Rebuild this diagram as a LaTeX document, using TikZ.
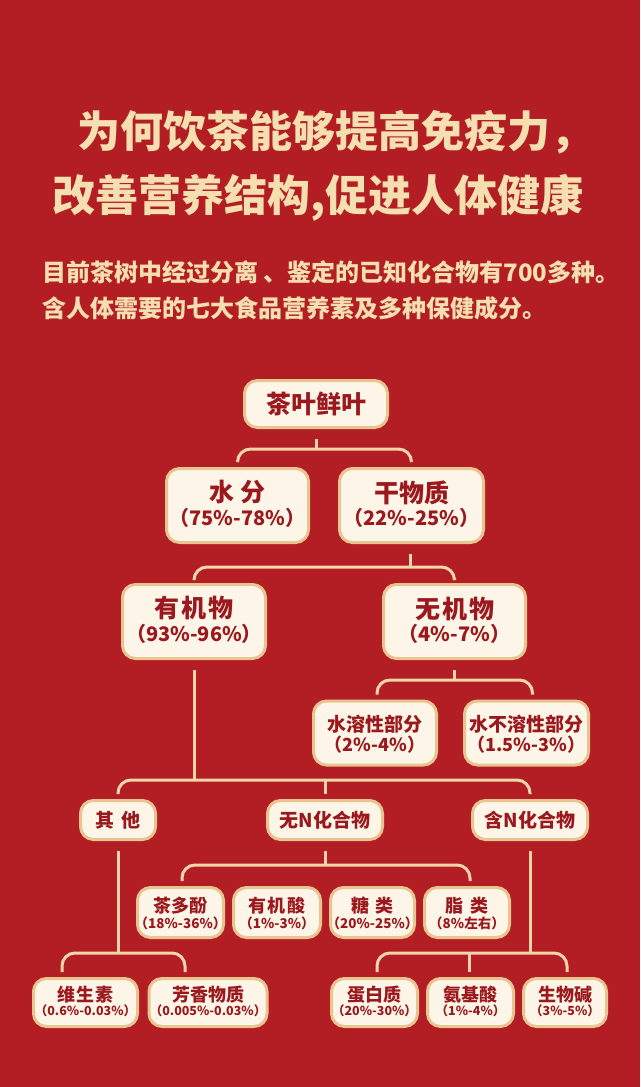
\documentclass[tikz,border=0pt]{standalone}
\usepackage{fontspec}
\newfontfamily\cjk{Noto Sans CJK SC}
\definecolor{bgred}{RGB}{178,30,36}
\definecolor{gold}{RGB}{245,222,175}
\definecolor{cardfill}{RGB}{253,246,232}
\definecolor{cardedge}{RGB}{232,196,145}
\definecolor{inkred}{RGB}{155,25,30}
\definecolor{linec}{RGB}{242,214,170}
\newcommand\fs[1]{\fontsize{#1}{#1}\selectfont}
\begin{document}
\begin{tikzpicture}[x=1pt,y=-1pt,
  card/.style={draw=cardedge, line width=3pt, fill=cardfill, rounded corners=13pt, inner sep=0pt},
  ttl/.style={text=gold, inner sep=0pt, font=\cjk\bfseries\fs{43}},
  sub/.style={text=gold, inner sep=0pt, font=\cjk\bfseries\fs{24}},
  la/.style={text=inkred, inner sep=0pt, font=\cjk\bfseries\fs{25}},
  lb/.style={text=inkred, inner sep=0pt, font=\cjk\bfseries\fs{20}},
  ma/.style={text=inkred, inner sep=0pt, font=\cjk\bfseries\fs{19}},
  mb/.style={text=inkred, inner sep=0pt, font=\cjk\bfseries\fs{18}},
  sa/.style={text=inkred, inner sep=0pt, font=\cjk\bfseries\fs{18}},
  sb/.style={text=inkred, inner sep=0pt, font=\cjk\bfseries\fs{13.5}},
  sc/.style={text=inkred, inner sep=0pt, font=\cjk\bfseries\fs{12.5}},
  conn/.style={draw=linec, line width=3pt, rounded corners=13pt}
]
\fill[bgred] (0,0) rectangle (640,1087);
\useasboundingbox (0,0) rectangle (640,1087);

% titles
\node[ttl, anchor=west] (t1) at (77,132) {为何饮茶能够提高免疫力，};
\node[ttl, anchor=west] (t2) at (52,197.5) {改善营养结构,促进人体健康};
\node[sub, anchor=west] (s1) at (42,272) {目前茶树中经过分离 、鉴定的已知化合物有700多种。};
\node[sub, anchor=west] (s2) at (42,308) {含人体需要的七大食品营养素及多种保健成分。};

% level 1
\node[card, minimum width=143, minimum height=47] (tea) at (316,404) {};
\node[la] (teaA) at (tea.center) {茶叶鲜叶};

% level 2
\node[card, minimum width=142, minimum height=74] (water) at (237.5,505.5) {};
\node[la] (waterA) at ([yshift=13pt]water.center) {水\hspace{6pt}分};
\node[lb] (waterB) at ([yshift=-12.5pt]water.center) {（75\%-78\%）};
\node[card, minimum width=144, minimum height=74] (dry) at (411.5,505.5) {};
\node[la] (dryA) at ([yshift=13pt]dry.center) {干物质};
\node[lb] (dryB) at ([yshift=-12.5pt]dry.center) {（22\%-25\%）};

% level 3
\node[card, minimum width=143, minimum height=74] (org) at (194,621.5) {};
\node[la] (orgA) at ([yshift=13pt]org.center) {有\hspace{2pt}机\hspace{2pt}物};
\node[lb] (orgB) at ([yshift=-12.5pt]org.center) {（93\%-96\%）};
\node[card, minimum width=142, minimum height=74] (inorg) at (454.5,621.5) {};
\node[la] (inorgA) at ([yshift=13pt]inorg.center) {无\hspace{2pt}机\hspace{2pt}物};
\node[lb] (inorgB) at ([yshift=-12.5pt]inorg.center) {（4\%-7\%）};

% level 4 (inorganic)
\node[card, minimum width=123, minimum height=64] (sol) at (375,733) {};
\node[ma] (solA) at ([yshift=8.5pt]sol.center) {水溶性部分};
\node[mb] (solB) at ([yshift=-12pt]sol.center) {（2\%-4\%）};
\node[card, minimum width=124, minimum height=64] (insol) at (526.5,733) {};
\node[ma] (insolA) at ([yshift=8.5pt]insol.center) {水不溶性部分};
\node[mb] (insolB) at ([yshift=-12pt]insol.center) {（1.5\%-3\%）};

% level 4 (organic)
\node[card, minimum width=75, minimum height=39] (other) at (118,820) {};
\node[ma] (otherA) at (other.center) {其\hspace{7pt}他};
\node[card, minimum width=115, minimum height=39] (nonN) at (325,820) {};
\node[ma] (nonNA) at (nonN.center) {无N化合物};
\node[card, minimum width=115, minimum height=39] (withN) at (530,820) {};
\node[ma] (withNA) at (withN.center) {含N化合物};

% level 5 (non-N)
\node[card, minimum width=86, minimum height=50] (tp) at (180.5,912.5) {};
\node[sa] (tpA) at ([yshift=6.5pt]tp.center) {茶多酚};
\node[sb] (tpB) at ([yshift=-10.5pt]tp.center) {（18\%-36\%）};
\node[card, minimum width=87, minimum height=50] (oa) at (277,912.5) {};
\node[sa] (oaA) at ([yshift=6.5pt]oa.center) {有\hspace{1.5pt}机\hspace{1.5pt}酸};
\node[sb] (oaB) at ([yshift=-10.5pt]oa.center) {（1\%-3\%）};
\node[card, minimum width=84, minimum height=50] (sugar) at (372.5,912.5) {};
\node[sa] (sugarA) at ([yshift=6.5pt]sugar.center) {糖\hspace{7pt}类};
\node[sb] (sugarB) at ([yshift=-10.5pt]sugar.center) {（20\%-25\%）};
\node[card, minimum width=85, minimum height=50] (lipid) at (467,912.5) {};
\node[sa] (lipidA) at ([yshift=6.5pt]lipid.center) {脂\hspace{7pt}类};
\node[sb] (lipidB) at ([yshift=-10.5pt]lipid.center) {（8\%左右）};

% level 6
\node[card, minimum width=104, minimum height=48] (vit) at (85.5,1002.5) {};
\node[sa] (vitA) at ([yshift=7.5pt]vit.center) {维\hspace{1.5pt}生\hspace{1.5pt}素};
\node[sc] (vitB) at ([yshift=-8.5pt]vit.center) {（0.6\%-0.03\%）};
\node[card, minimum width=118, minimum height=48] (arom) at (208,1002.5) {};
\node[sa] (aromA) at ([yshift=7.5pt]arom.center) {芳香物质};
\node[sc] (aromB) at ([yshift=-8.5pt]arom.center) {（0.005\%-0.03\%）};
\node[card, minimum width=86, minimum height=48] (prot) at (374.5,1002.5) {};
\node[sa] (protA) at ([yshift=7.5pt]prot.center) {蛋白质};
\node[sc] (protB) at ([yshift=-8.5pt]prot.center) {（20\%-30\%）};
\node[card, minimum width=86, minimum height=48] (amino) at (470.5,1002.5) {};
\node[sa] (aminoA) at ([yshift=7.5pt]amino.center) {氨基酸};
\node[sc] (aminoB) at ([yshift=-8.5pt]amino.center) {（1\%-4\%）};
\node[card, minimum width=83, minimum height=48] (alk) at (565,1002.5) {};
\node[sa] (alkA) at ([yshift=7.5pt]alk.center) {生物碱};
\node[sc] (alkB) at ([yshift=-8.5pt]alk.center) {（3\%-5\%）};

% connector bars
\coordinate (b1) at (0,449);
\coordinate (b2) at (0,567);
\coordinate (b3) at (0,680);
\coordinate (b4) at (0,780);
\coordinate (b5) at (0,865);
\coordinate (b6) at (0,953);

\draw[conn] ([yshift=-10pt]tea.south) -- (tea.south |- b1);
\draw[conn] ([yshift=5pt]water.north) -- (water.north |- b1) -- (dry.north |- b1) -- ([yshift=5pt]dry.north);

\draw[conn] ([xshift=-1.5pt,yshift=-10pt]dry.south) -- ([xshift=-1.5pt]dry.south |- b2);
\draw[conn] ([yshift=5pt]org.north) -- (org.north |- b2) -- (inorg.north |- b2) -- ([yshift=5pt]inorg.north);

\draw[conn] ([yshift=-10pt]inorg.south) -- (inorg.south |- b3);
\draw[conn] ([xshift=2pt,yshift=5pt]sol.north) -- ([xshift=2pt]sol.north |- b3) -- ([xshift=6pt]insol.north |- b3) -- ([xshift=6pt,yshift=5pt]insol.north);

\draw[conn] ([yshift=-10pt]org.south) -- (org.south |- b4);
\draw[conn] ([yshift=5pt]other.north) -- (other.north |- b4) -- (withN.north |- b4) -- ([yshift=5pt]withN.north);
\draw[conn] (nonN.north |- b4) -- ([yshift=5pt]nonN.north);

\draw[conn] ([yshift=-10pt]nonN.south) -- (nonN.south |- b5);
\draw[conn] ([xshift=1.5pt,yshift=5pt]tp.north) -- ([xshift=1.5pt]tp.north |- b5) -- ([xshift=3pt]lipid.north |- b5) -- ([xshift=3pt,yshift=5pt]lipid.north);

\draw[conn] ([yshift=-10pt]other.south) -- (other.south |- b6);
\draw[conn] ([xshift=-23.5pt,yshift=5pt]vit.north) -- ([xshift=-23.5pt]vit.north |- b6) -- ([xshift=-23pt]arom.north |- b6) -- ([xshift=-23pt,yshift=5pt]arom.north);

\draw[conn] ([yshift=-10pt]withN.south) -- (withN.south |- b6);
\draw[conn] ([xshift=2.5pt,yshift=5pt]prot.north) -- ([xshift=2.5pt]prot.north |- b6) -- ([xshift=2pt]alk.north |- b6) -- ([xshift=2pt,yshift=5pt]alk.north);
\draw[conn] ([xshift=-1.5pt]amino.north |- b6) -- ([xshift=-1.5pt,yshift=5pt]amino.north);
\end{tikzpicture}
\end{document}
